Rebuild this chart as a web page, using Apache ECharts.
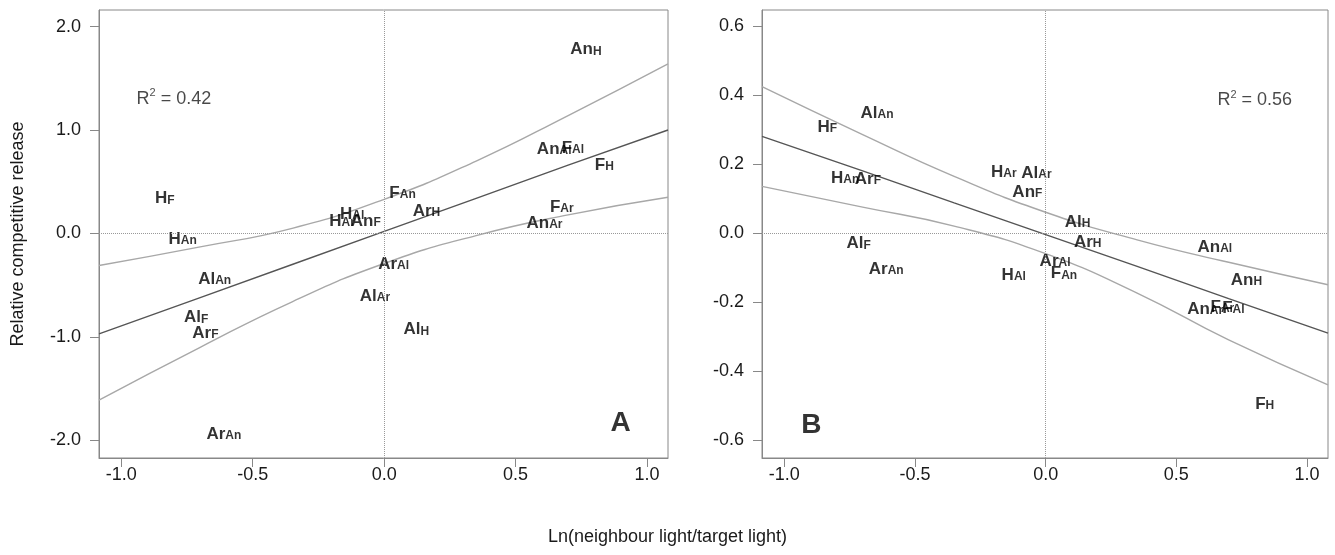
<!DOCTYPE html>
<html>
<head>
<meta charset="utf-8">
<script src="https://cdn.jsdelivr.net/npm/echarts@6/dist/echarts.min.js"></script>
<style>html,body{margin:0;padding:0;background:#fff}#c{width:1335px;height:555px}</style>
</head>
<body>
<div id="c"></div>
<script>
// Pair labels: target_neighbour
const pairLabels = ['H_F','H_An','H_Ar','H_Al','An_H','An_F','An_Ar','An_Al','F_H','F_An','F_Ar','F_Al','Ar_H','Ar_Al','Ar_F','Ar_An','Al_An','Al_F','Al_Ar','Al_H'];
// Ln(neighbour light / target light)
const lightRatio = [-0.835,-0.767,-0.16,-0.122,0.768,-0.07,0.61,0.647,0.838,0.07,0.676,0.718,0.161,0.036,-0.68,-0.61,-0.645,-0.715,-0.035,0.122];
// Relative competitive release, panel A and panel B
const releaseA = [0.36,-0.03,0.139,0.213,1.80,0.139,0.12,0.84,0.68,0.41,0.274,0.845,0.235,-0.277,-0.94,-1.92,-0.42,-0.79,-0.58,-0.906];
const releaseB = [0.314,0.165,0.184,-0.116,-0.13,0.126,-0.215,-0.034,-0.488,-0.111,-0.207,-0.212,-0.019,-0.075,0.162,-0.097,0.353,-0.024,0.179,0.039];

// Regression line and confidence band, read at these x positions
const bandX  = [-1.085,-0.7,-0.35,0,0.35,0.7,1.08];
const fitA   = [-0.97,-0.62,-0.30,0.02,0.34,0.66,1.00];
const upperA = [-0.31,-0.13,0.05,0.33,0.70,1.14,1.64];
const lowerA = [-1.61,-1.10,-0.66,-0.29,-0.02,0.18,0.35];
const fitB   = [0.28,0.18,0.087,-0.005,-0.097,-0.19,-0.29];
const upperB = [0.424,0.285,0.164,0.06,-0.02,-0.085,-0.15];
const lowerB = [0.135,0.075,0.02,-0.06,-0.174,-0.31,-0.44];

const r2Text = ['0.42','0.56'];
const panelLetters = ['A','B'];
const xTicks = [-1,-0.5,0,0.5,1];
const yTicksA = [-2,-1,0,1,2];
const yTicksB = [-0.6,-0.4,-0.2,0,0.2,0.4,0.6];

const FONT = "'Liberation Sans', Arial, Helvetica, sans-serif";
const chart = echarts.init(document.getElementById('c'), null, {renderer:'canvas'});

function pts(ys){ return bandX.map((x,i)=>[x, ys[i]]); }
function labelData(ys){ return pairLabels.map((n,i)=>({name:n, value:[lightRatio[i], ys[i]]})); }

const richLab = {
  m:{fontSize:17, fontWeight:'bold', fontFamily:FONT, color:'#000', lineHeight:16, verticalAlign:'top'},
  s:{fontSize:12, fontWeight:'bold', fontFamily:FONT, color:'#000', lineHeight:12, verticalAlign:'bottom', padding:[9,0,0,0]}
};

function xAxisDef(gi){
  return {gridIndex:gi, type:'value', min:-1.085, max:1.08,
    axisLine:{show:true, onZero:false, lineStyle:{color:'#888'}},
    axisTick:{show:true, length:9, customValues:xTicks, lineStyle:{color:'#888'}},
    axisLabel:{customValues:xTicks, formatter:v=>v.toFixed(1), margin:8, fontSize:18, color:'#1a1a1a', fontFamily:FONT},
    splitLine:{show:false}};
}
function yAxisDef(gi, min, max, ticks, name){
  return {gridIndex:gi, type:'value', min:min, max:max,
    name:name, nameLocation:'middle', nameGap:72,
    nameTextStyle:{fontSize:18, color:'#1a1a1a', fontFamily:FONT},
    axisLine:{show:true, onZero:false, lineStyle:{color:'#888'}},
    axisTick:{show:true, length:9, customValues:ticks, lineStyle:{color:'#888'}},
    axisLabel:{customValues:ticks, formatter:v=>v.toFixed(1), margin:18, fontSize:18, color:'#1a1a1a', fontFamily:FONT},
    splitLine:{show:false}};
}

function panelSeries(gi, ys, fit, up, lo, r2Pos, letterPos, r2){
  return [
    {type:'line', xAxisIndex:gi, yAxisIndex:gi, data:pts(up), smooth:true, showSymbol:false, silent:true,
      lineStyle:{color:'#a8a8a8', width:1.4}, z:2},
    {type:'line', xAxisIndex:gi, yAxisIndex:gi, data:pts(lo), smooth:true, showSymbol:false, silent:true,
      lineStyle:{color:'#a8a8a8', width:1.4}, z:2},
    {type:'line', xAxisIndex:gi, yAxisIndex:gi, data:pts(fit), showSymbol:false, silent:true,
      lineStyle:{color:'#555', width:1.4}, z:3},
    {type:'scatter', xAxisIndex:gi, yAxisIndex:gi, data:labelData(ys), symbolSize:1,
      itemStyle:{color:'transparent'}, z:4,
      label:{show:true, position:'inside', offset:[0,2], formatter:p=>{const k=p.name.split('_'); return '{m|'+k[0]+'}{s|'+k[1]+'}';}, rich:richLab},
      markLine:{symbol:'none', silent:true, label:{show:false},
        lineStyle:{type:'dotted', color:'#999', width:1},
        data:[{xAxis:0},{yAxis:0}]}},
    {type:'scatter', xAxisIndex:gi, yAxisIndex:gi, symbolSize:1, itemStyle:{color:'transparent'}, z:4,
      data:[{name:'r2', value:r2Pos}, {name:'letter', value:letterPos}],
      label:{show:true, position:'inside',
        formatter:p=> p.name==='r2' ? '{a|R}{sup|2}{a| = '+r2+'}' : '{L|'+panelLetters[gi]+'}',
        rich:{
          a:{fontSize:18, fontFamily:FONT, color:'#1a1a1a', lineHeight:20, verticalAlign:'bottom'},
          sup:{fontSize:11, fontFamily:FONT, color:'#1a1a1a', lineHeight:20, verticalAlign:'top', padding:[0,0,6,0]},
          L:{fontSize:28, fontWeight:'bold', fontFamily:FONT, color:'#000'}
        }}}
  ];
}

const option = {
  backgroundColor:'#fff',
  animation:false,
  grid:[
    {left:99, top:10, width:569, height:448, show:true, borderColor:'#888', borderWidth:1, backgroundColor:'transparent'},
    {left:762, top:10, width:566, height:448, show:true, borderColor:'#888', borderWidth:1, backgroundColor:'transparent'}
  ],
  xAxis:[xAxisDef(0), xAxisDef(1)],
  yAxis:[yAxisDef(0,-2.17,2.16,yTicksA,'Relative competitive release'), yAxisDef(1,-0.652,0.646,yTicksB,'')],
  graphic:[{type:'text', left:'center', top:528,
    style:{text:'Ln(neighbour light/target light)', fontSize:18, fontFamily:FONT, fill:'#1a1a1a'}}],
  series:[].concat(
    panelSeries(0, releaseA, fitA, upperA, lowerA, [-0.80,1.31], [0.90,-1.83], r2Text[0]),
    panelSeries(1, releaseB, fitB, upperB, lowerB, [0.80,0.388], [-0.896,-0.556], r2Text[1])
  )
};
chart.setOption(option);
</script>
</body>
</html>
